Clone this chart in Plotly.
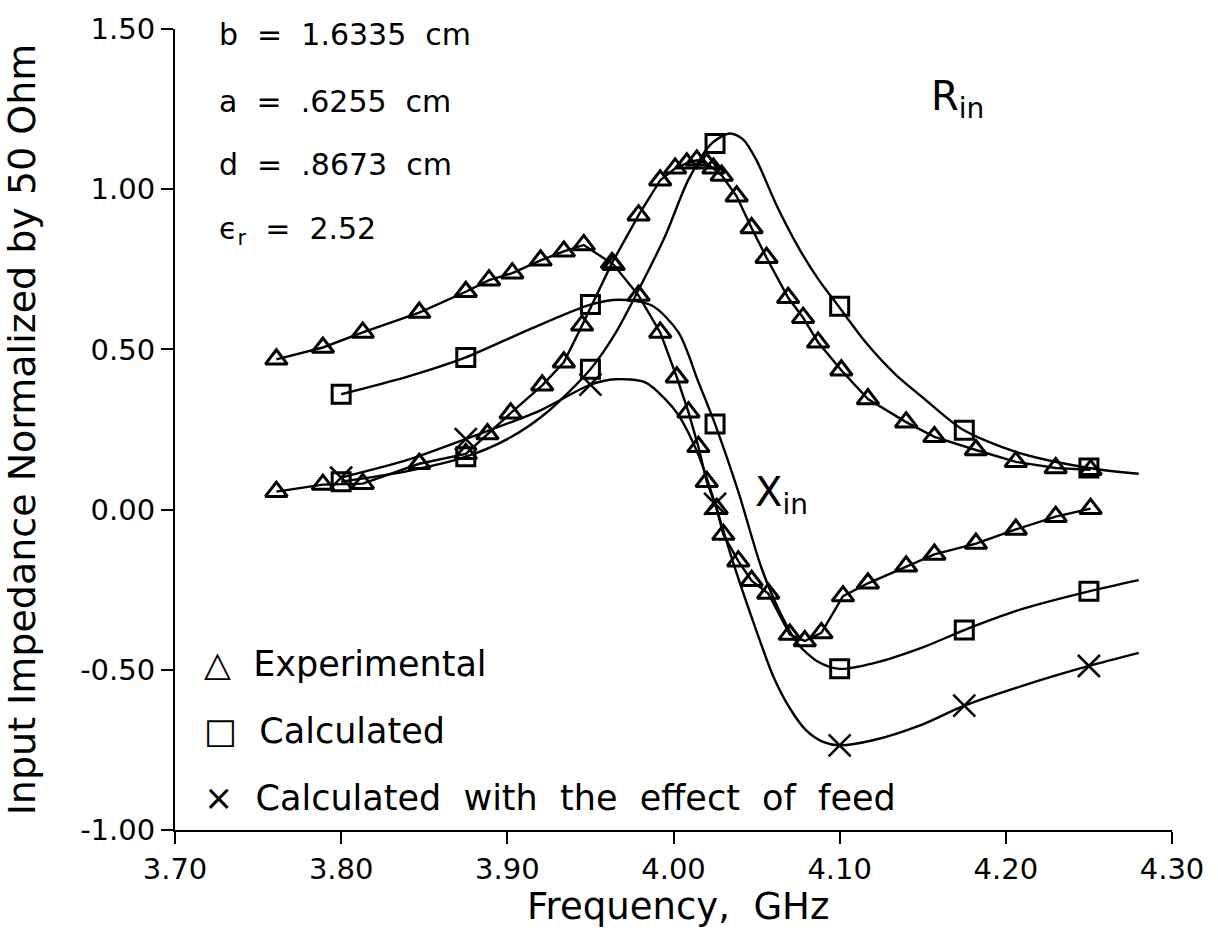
import plotly.graph_objects as go

# ---------------- data ----------------
# Experimental (triangles, polyline)
exp_r_f = [3.761, 3.789, 3.813, 3.847, 3.875, 3.888, 3.902, 3.921, 3.934, 3.945, 3.963, 3.979,
           3.992, 4.001, 4.008, 4.014, 4.020, 4.024, 4.029, 4.038, 4.047, 4.056, 4.069, 4.078,
           4.087, 4.101, 4.117, 4.140, 4.157, 4.182, 4.206, 4.230, 4.251]
exp_r = [0.056, 0.078, 0.081, 0.143, 0.174, 0.236, 0.301, 0.388, 0.460, 0.575, 0.770, 0.919,
         1.028, 1.065, 1.081, 1.090, 1.081, 1.065, 1.043, 0.978, 0.879, 0.786, 0.661, 0.599,
         0.522, 0.435, 0.345, 0.273, 0.227, 0.186, 0.149, 0.130, 0.124]

exp_x_f = [3.761, 3.789, 3.813, 3.847, 3.875, 3.889, 3.903, 3.920, 3.934, 3.946, 3.964, 3.979,
           3.992, 4.002, 4.009, 4.015, 4.020, 4.026, 4.030, 4.039, 4.047, 4.057, 4.070, 4.079,
           4.089, 4.102, 4.117, 4.140, 4.157, 4.182, 4.206, 4.230, 4.251]
exp_x = [0.469, 0.506, 0.553, 0.615, 0.680, 0.716, 0.738, 0.778, 0.806, 0.826, 0.764, 0.668,
         0.553, 0.413, 0.304, 0.196, 0.087, 0.003, -0.078, -0.161, -0.222, -0.262, -0.390, -0.410,
         -0.385, -0.270, -0.230, -0.177, -0.140, -0.106, -0.062, -0.022, 0.003]

# Calculated points (markers)
calc_f = [3.80, 3.875, 3.95, 4.025, 4.10, 4.175, 4.25]
calc_r = [0.087, 0.165, 0.438, 1.143, 0.635, 0.248, 0.130]
calc_x = [0.360, 0.475, 0.640, 0.267, -0.497, -0.376, -0.255]
feed_x = [0.100, 0.220, 0.390, 0.018, -0.736, -0.612, -0.488]

# Calculated curves
calc_r_curve_f = [3.80, 3.84, 3.875, 3.90, 3.923, 3.95, 3.965, 3.979, 3.995, 4.009, 4.023, 4.034,
                  4.042, 4.050, 4.062, 4.075, 4.087, 4.10, 4.116, 4.134, 4.15, 4.174, 4.206,
                  4.25, 4.28]
calc_r_curve = [0.087, 0.12, 0.165, 0.22, 0.30, 0.438, 0.55, 0.686, 0.854, 1.03, 1.143, 1.174,
                1.155, 1.09, 0.95, 0.82, 0.72, 0.63, 0.52, 0.42, 0.35, 0.25, 0.18, 0.13, 0.112]

calc_x_curve_f = [3.80, 3.84, 3.875, 3.913, 3.95, 3.967, 3.987, 4.003, 4.015, 4.025, 4.039, 4.053,
                  4.065, 4.075, 4.087, 4.10, 4.12, 4.15, 4.175, 4.21, 4.25, 4.28]
calc_x_curve = [0.36, 0.415, 0.475, 0.562, 0.64, 0.655, 0.637, 0.553, 0.398, 0.267, 0.056, -0.183,
                -0.33, -0.42, -0.475, -0.497, -0.48, -0.43, -0.376, -0.31, -0.255, -0.22]

feed_x_curve_f = [3.80, 3.84, 3.875, 3.92, 3.95, 3.965, 3.983, 3.995, 4.003, 4.015, 4.025, 4.037,
                  4.05, 4.06, 4.07, 4.08, 4.09, 4.10, 4.12, 4.15, 4.175, 4.21, 4.25, 4.28]
feed_x_curve = [0.10, 0.155, 0.22, 0.31, 0.39, 0.407, 0.397, 0.345, 0.295, 0.171, 0.018, -0.183,
                -0.38, -0.52, -0.62, -0.69, -0.725, -0.736, -0.72, -0.67, -0.612, -0.55, -0.488, -0.447]

x_ticks = [3.70, 3.80, 3.90, 4.00, 4.10, 4.20, 4.30]
x_tick_labels = ["3.70", "3.80", "3.90", "4.00", "4.10", "4.20", "4.30"]
y_ticks = [-1.00, -0.50, 0.00, 0.50, 1.00, 1.50]
y_tick_labels = ["-1.00", "-0.50", "0.00", "0.50", "1.00", "1.50"]

# ---------------- figure ----------------
FONT = "DejaVu Sans"
BLK = "black"
LW = 2.4
S = "\u00a0"

fig = go.Figure()

# smooth calculated curves
for xs, ys in [(calc_r_curve_f, calc_r_curve), (calc_x_curve_f, calc_x_curve),
               (feed_x_curve_f, feed_x_curve)]:
    fig.add_trace(go.Scatter(x=xs, y=ys, mode="lines",
                             line=dict(color=BLK, width=LW, shape="spline", smoothing=0.8),
                             showlegend=False, hoverinfo="skip"))

# experimental
for xs, ys in [(exp_r_f, exp_r), (exp_x_f, exp_x)]:
    fig.add_trace(go.Scatter(x=xs, y=ys, mode="lines+markers",
                             line=dict(color=BLK, width=LW),
                             marker=dict(symbol="triangle-up-open", size=19,
                                         color=BLK, line=dict(width=3, color=BLK)),
                             showlegend=False))

# calculated markers
for ys in [calc_r, calc_x]:
    fig.add_trace(go.Scatter(x=calc_f, y=ys, mode="markers",
                             marker=dict(symbol="square-open", size=18,
                                         color=BLK, line=dict(width=3, color=BLK)),
                             showlegend=False))
fig.add_trace(go.Scatter(x=calc_f, y=feed_x, mode="markers",
                         marker=dict(symbol="x-thin-open", size=22,
                                     color=BLK, line=dict(width=2.6, color=BLK)),
                         showlegend=False))

annots = [
    dict(x=3.725, y=1.484, text=f"b{S}{S}={S}{S}1.6335{S}{S}cm", size=30),
    dict(x=3.725, y=1.275, text=f"a{S}{S}={S}{S}.6255{S}{S}cm", size=30),
    dict(x=3.725, y=1.078, text=f"d{S}{S}={S}{S}.8673{S}{S}cm", size=30),
    dict(x=3.725, y=0.872, text=f"ϵ<sub>r</sub>{S}{S}={S}{S}2.52", size=30),
    dict(x=4.154, y=1.28, text="R<sub>in</sub>", size=40),
    dict(x=4.048, y=0.045, text="X<sub>in</sub>", size=40),
    dict(x=3.716, y=-0.481, text=f"△{S}{S}Experimental", size=35),
    dict(x=3.716, y=-0.690, text=f"□{S}{S}Calculated", size=35),
    dict(x=3.716, y=-0.900,
         text=f"×{S}{S}Calculated{S}{S}with{S}{S}the{S}{S}effect{S}{S}of{S}{S}feed", size=35),
]
for a in annots:
    fig.add_annotation(x=a["x"], y=a["y"], text=a["text"], xref="x", yref="y",
                       xanchor="left", yanchor="middle", showarrow=False,
                       font=dict(family=FONT, size=a["size"], color=BLK))

# x-axis title placed as paper annotation for exact vertical position
fig.add_annotation(x=0.505, y=-0.096, xref="paper", yref="paper",
                   text=f"Frequency,{S}{S}GHz", showarrow=False,
                   xanchor="center", yanchor="middle",
                   font=dict(family=FONT, size=37, color=BLK))

fig.update_xaxes(range=[3.70, 4.30], tickvals=x_ticks, ticktext=x_tick_labels,
                 showgrid=False, zeroline=False, showline=True, linecolor=BLK, linewidth=2,
                 ticks="outside", ticklen=12, tickwidth=2, tickcolor=BLK,
                 tickfont=dict(family=FONT, size=29, color=BLK))
fig.update_yaxes(range=[-1.00, 1.50], tickvals=y_ticks, ticktext=y_tick_labels,
                 showgrid=False, zeroline=False, showline=True, linecolor=BLK, linewidth=2,
                 ticks="outside", ticklen=12, tickwidth=2, tickcolor=BLK,
                 tickfont=dict(family=FONT, size=29, color=BLK),
                 title=dict(text="Input Impedance Normalized by 50 Ohm",
                            font=dict(family=FONT, size=38, color=BLK), standoff=34))

fig.update_layout(width=1218, height=930, margin=dict(l=175, r=46, t=25, b=100),
                  plot_bgcolor="white", paper_bgcolor="white", showlegend=False)

fig.write_html("out.html")
